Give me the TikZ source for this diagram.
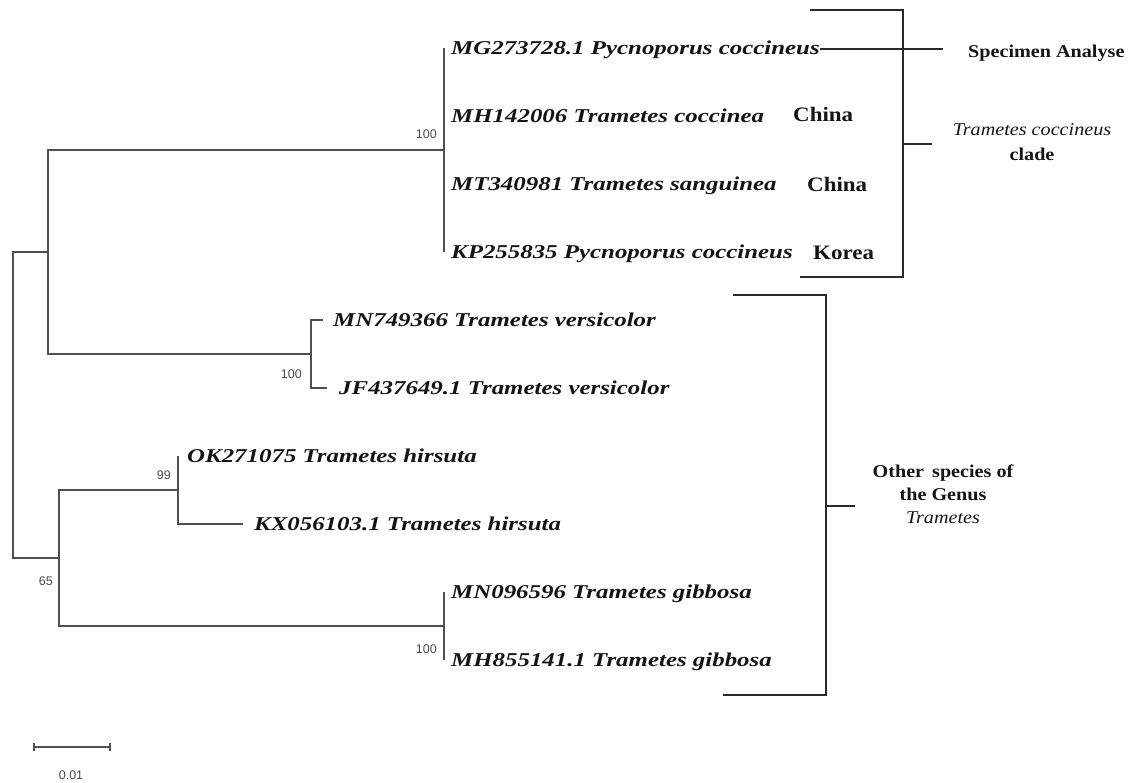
\documentclass[tikz,border=0pt]{standalone}
\usepackage{fontspec}
\setmainfont{Liberation Serif}
\newfontfamily\tipfont[FakeStretch=1.27]{Liberation Serif}
\newfontfamily\labfont[FakeStretch=1.12]{Liberation Serif}
\newfontfamily\bootfont{Liberation Sans}
\definecolor{branchcol}{HTML}{505050}
\definecolor{bracketcol}{HTML}{2A2A2A}
\definecolor{inkcol}{HTML}{141414}
\definecolor{bootcol}{HTML}{4A4A4A}
\begin{document}
\begin{tikzpicture}[x=1pt,y=-1pt,
  branch/.style={draw=branchcol,line width=1.3pt},
  bracket/.style={draw=bracketcol,line width=1.4pt},
  tiplab/.style={anchor=base west,inner sep=0pt,text=inkcol,
    font=\tipfont\fontsize{19.6}{21}\selectfont\bfseries\itshape},
  country/.style={anchor=base west,inner sep=0pt,text=inkcol,
    font=\labfont\fontsize{20.5}{22}\selectfont\bfseries},
  cladelab/.style={inner sep=0pt,text=inkcol,align=center},
  boot/.style={anchor=base east,inner sep=0pt,text=bootcol,
    font=\bootfont\fontsize{12.5}{14}\selectfont}]
\path[use as bounding box] (0,0) rectangle (1137,782);

% internal nodes of the tree
\coordinate (root) at (13,405);
\coordinate (nA) at (48,252);
\coordinate (nC) at (444,150);
\coordinate (nV) at (311,354);
\coordinate (nB) at (59,558);
\coordinate (nH) at (178,490);
\coordinate (nG) at (444,626);

% branch ends of the ten taxa
\coordinate (e1) at (444,48);
\coordinate (e2) at (444,116);
\coordinate (e3) at (444,184);
\coordinate (e4) at (444,252);
\coordinate (e5) at (323,320);
\coordinate (e6) at (327,388);
\coordinate (e7) at (178,456);
\coordinate (e8) at (243,524);
\coordinate (e9) at (444,592);
\coordinate (e10) at (444,660);

% rectangular branches
\draw[branch] (root) |- (nA);
\draw[branch] (root) |- (nB);
\draw[branch] (nA) |- (nC);
\draw[branch] (nA) |- (nV);
\draw[branch] (nC) |- (e1);
\draw[branch] (nC) |- (e4);
\draw[branch] (nV) |- (e5);
\draw[branch] (nV) |- (e6);
\draw[branch] (nB) |- (nH);
\draw[branch] (nB) |- (nG);
\draw[branch] (nH) |- (e7);
\draw[branch] (nH) |- (e8);
\draw[branch] (nG) |- (e9);
\draw[branch] (nG) |- (e10);

% taxon labels
\node[tiplab] (t1) at ([xshift=7pt,yshift=-6.5pt]e1) {MG273728.1 Pycnoporus coccineus};
\node[tiplab] (t2) at ([xshift=7pt,yshift=-6.5pt]e2) {MH142006 Trametes coccinea};
\node[tiplab] (t3) at ([xshift=7pt,yshift=-6.5pt]e3) {MT340981 Trametes sanguinea};
\node[tiplab] (t4) at ([xshift=7pt,yshift=-6.5pt]e4) {KP255835 Pycnoporus coccineus};
\node[tiplab] (t5) at ([xshift=10pt,yshift=-6.5pt]e5) {MN749366 Trametes versicolor};
\node[tiplab] (t6) at ([xshift=12pt,yshift=-6.5pt]e6) {JF437649.1 Trametes versicolor};
\node[tiplab] (t7) at ([xshift=9pt,yshift=-6.5pt]e7) {OK271075 Trametes hirsuta};
\node[tiplab] (t8) at ([xshift=11pt,yshift=-6.5pt]e8) {KX056103.1 Trametes hirsuta};
\node[tiplab] (t9) at ([xshift=7pt,yshift=-6.5pt]e9) {MN096596 Trametes gibbosa};
\node[tiplab] (t10) at ([xshift=7pt,yshift=-6.5pt]e10) {MH855141.1 Trametes gibbosa};

% countries of origin
\node[country] (c2) at (793,121) {China};
\node[country] (c3) at (807,191) {China};
\node[country] (c4) at (813,259) {Korea};

% bootstrap values
\node[boot] (b1) at (437,138) {100};
\node[boot] (b2) at (302,378) {100};
\node[boot] (b3) at (171,479) {99};
\node[boot] (b4) at (53,585) {65};
\node[boot] (b5) at (437,653) {100};

% specimen pointer
\node[anchor=base west,inner sep=0pt,text=inkcol,
  font=\labfont\fontsize{18}{20}\selectfont\bfseries] (spec) at (968,57) {Specimen Analyse};
\coordinate (specend) at (943,49);
\draw[bracket,line width=1.2pt] (t1.east|-specend) -- (specend);

% clade brackets
\draw[bracket] (810,10) -- (903,10) -- (903,277) -- (800,277);
\coordinate (k1) at (903,144);
\node[cladelab,font=\labfont\fontsize{18}{25}\selectfont] (cl1) at (1032,142)
  {\itshape Trametes coccineus\\\bfseries clade};
\draw[bracket] (k1) -- ++(29,0);

\draw[bracket] (733,295) -- (826,295) -- (826,695) -- (723,695);
\coordinate (k2) at (826,506);
\node[cladelab,font=\labfont\fontsize{18}{23}\selectfont] (cl2) at (943,494)
  {\bfseries Other\, species of\\\bfseries the Genus\\\itshape Trametes};
\draw[bracket] (k2) -- ++(29,0);

% scale bar with end ticks
\coordinate (s1) at (34,747);
\coordinate (s2) at (110,747);
\draw[branch] (s1) -- (s2);
\draw[branch] ([yshift=4pt]s1) -- ([yshift=-4pt]s1);
\draw[branch] ([yshift=4pt]s2) -- ([yshift=-4pt]s2);
\node[inner sep=0pt,text=bootcol,font=\bootfont\fontsize{12.5}{14}\selectfont] (sl) at (71,775) {0.01};
\end{tikzpicture}
\end{document}
